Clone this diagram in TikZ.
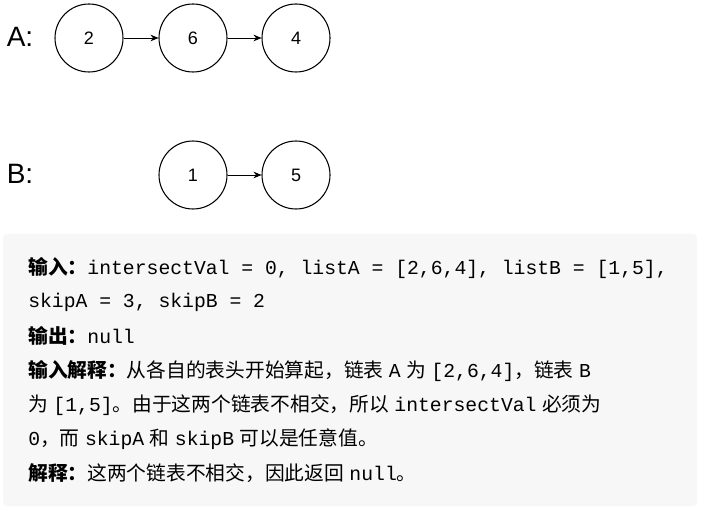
\documentclass[tikz,border=0pt]{standalone}
\usepackage{fontspec}
\setmainfont{Liberation Sans}
\setmonofont{Liberation Mono}
\newfontfamily\cjk{Noto Sans CJK SC}
\usetikzlibrary{arrows.meta}
\begin{document}
\begin{tikzpicture}[x=0.75pt,y=-0.75pt,
  nd/.style={circle,draw,line width=0.8pt,minimum size=68pt*0.75,inner sep=0pt,font=\fontsize{13.5}{14}\selectfont},
  lab/.style={font=\fontsize{21}{22}\selectfont},
  ar/.style={-{Stealth[length=6pt,width=5pt]},line width=0.6pt},
  tx/.style={anchor=west,inner sep=0pt,font=\fontsize{14.8}{16}\selectfont}]
\useasboundingbox (0,0) rectangle (705,516);
\fill[white] (0,0) rectangle (705,516);
\node[lab] (la) at (20,37) {A:};
\node[lab] (lb) at (20,174) {B:};
\node[nd] (a1) at (89,38) {2};
\node[nd] (a2) at (193,38) {6};
\node[nd] (a3) at (296,38) {4};
\node[nd] (b1) at (193,175) {1};
\node[nd] (b2) at (296,175) {5};
\draw[ar] (a1) -- (a2);
\draw[ar] (a2) -- (a3);
\draw[ar] (b1) -- (b2);
\fill[gray!6, rounded corners=3pt] (3,234) rectangle (697,506);
\node[tx] (t1) at (28,268) {{\cjk\bfseries 输入：}\texttt{intersectVal = 0, listA = [2,6,4], listB = [1,5],}};
\node[tx] (t2) at (28,302) {\texttt{skipA = 3, skipB = 2}};
\node[tx] (t3) at (28,336) {{\cjk\bfseries 输出：}\texttt{null}};
\node[tx] (t4) at (28,371) {{\cjk\bfseries 输入解释：}{\cjk 从各自的表头开始算起，链表}\ \texttt{A}\ {\cjk 为}\ \texttt{[2,6,4]}{\cjk ，链表}\ \texttt{B}};
\node[tx] (t5) at (28,405) {{\cjk 为}\ \texttt{[1,5]}{\cjk 。由于这两个链表不相交，所以}\ \texttt{intersectVal}\ {\cjk 必须为}};
\node[tx] (t6) at (28,439) {\texttt{0}{\cjk ，而}\ \texttt{skipA}\ {\cjk 和}\ \texttt{skipB}\ {\cjk 可以是任意值。}};
\node[tx] (t7) at (28,473) {{\cjk\bfseries 解释：}{\cjk 这两个链表不相交，因此返回}\ \texttt{null}{\cjk 。}};
\end{tikzpicture}
\end{document}
